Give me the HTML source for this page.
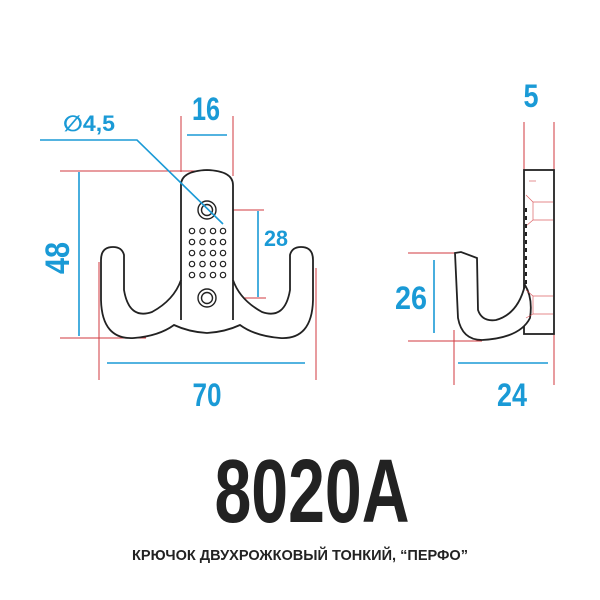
<!DOCTYPE html>
<html><head><meta charset="utf-8"><style>
html,body{margin:0;padding:0;background:#fff;}
svg{display:block;}
text{font-family:"Liberation Sans Narrow","Liberation Sans","DejaVu Sans",sans-serif;font-weight:bold;}
</style></head><body>
<svg width="600" height="600" viewBox="0 0 600 600" xmlns="http://www.w3.org/2000/svg">
<g stroke="#d23a3f" stroke-width="1" fill="none">
 <line x1="181" y1="116" x2="181" y2="172"/><line x1="233" y1="116" x2="233" y2="176"/>
 <line x1="60" y1="171" x2="200" y2="171"/><line x1="60" y1="338" x2="146" y2="338"/>
 <line x1="207" y1="210" x2="264" y2="210"/><line x1="207" y1="298" x2="266" y2="298"/>
 <line x1="99" y1="262" x2="99" y2="380"/><line x1="316" y1="268" x2="316" y2="380"/>
 <line x1="524" y1="122" x2="524" y2="170"/><line x1="554" y1="122" x2="554" y2="170"/>
 <line x1="408" y1="253" x2="455" y2="253"/><line x1="408" y1="341" x2="482" y2="341"/>
 <line x1="454" y1="330" x2="454" y2="385"/><line x1="554" y1="330" x2="554" y2="385"/>
</g>
<g stroke="#1a9ad6" stroke-width="1.6" fill="none">
 <line x1="187" y1="135" x2="227" y2="135"/>
 <line x1="79" y1="172" x2="79" y2="336"/>
 <line x1="258" y1="211" x2="258" y2="297"/>
 <line x1="107" y1="363" x2="305" y2="363"/>
 <line x1="434" y1="260" x2="434" y2="333"/>
 <line x1="458" y1="363" x2="548" y2="363"/>
</g>
<g stroke="#222" stroke-width="1.8" fill="#fff">
 <path d="M181 280 L181 185 Q181 171 207 170 Q233 171 233 185 L233 280 Q240 300 262 312 Q285 320 290 290 L290 255 Q292 247 301 247 Q313 247 313 260 L313 300 Q312 340 280 338 Q255 336 240 325 Q225 332 207 333 Q189 332 174 325 Q159 336 134 338 Q102 340 101 300 L101 260 Q101 247 113 247 Q122 247 124 255 L124 290 Q129 320 152 312 Q174 300 181 280 Z"/>
 <path d="M181 280 L181 320 M233 280 L233 320" fill="none"/>
</g>
<g stroke="#222" stroke-width="1.4" fill="none">
 <circle cx="207" cy="210" r="9"/><circle cx="207" cy="210" r="5.5"/>
 <circle cx="207" cy="298" r="9"/><circle cx="207" cy="298" r="5.5"/>
 <g stroke-width="1.2">
 <circle cx="192" cy="231" r="2.7"/><circle cx="202.5" cy="231" r="2.7"/><circle cx="213" cy="231" r="2.7"/><circle cx="223" cy="231" r="2.7"/>
 <circle cx="192" cy="242" r="2.7"/><circle cx="202.5" cy="242" r="2.7"/><circle cx="213" cy="242" r="2.7"/><circle cx="223" cy="242" r="2.7"/>
 <circle cx="192" cy="253" r="2.7"/><circle cx="202.5" cy="253" r="2.7"/><circle cx="213" cy="253" r="2.7"/><circle cx="223" cy="253" r="2.7"/>
 <circle cx="192" cy="264" r="2.7"/><circle cx="202.5" cy="264" r="2.7"/><circle cx="213" cy="264" r="2.7"/><circle cx="223" cy="264" r="2.7"/>
 <circle cx="192" cy="275" r="2.7"/><circle cx="202.5" cy="275" r="2.7"/><circle cx="213" cy="275" r="2.7"/><circle cx="223" cy="275" r="2.7"/>
 </g>
</g>
<polyline points="40,140 137,140 223,224" stroke="#1a9ad6" stroke-width="1.6" fill="none"/>
<g stroke="#222" stroke-width="1.8" fill="#fff">
 <rect x="524" y="170" width="30" height="164"/>
 <path d="M455 253 L461 252 L477 258 L478 310 Q482 322 496 320 Q518 314 525 285 Q533 298 530 318 Q520 338 482 340 Q462 340 458 318 Z"/>
</g>
<g stroke="#d23a3f" stroke-width="0.7" fill="none" opacity="0.8">
 <path d="M526 195 L533 202 L553 202 M533 202 L533 220 L553 220 M526 226 L533 220"/>
 <path d="M526 290 L533 296 L553 296 M533 296 L533 314 L553 314 M526 318 L533 314"/>
 <line x1="529" y1="181" x2="536" y2="181"/>
</g>
<g stroke="#222" stroke-width="2" stroke-dasharray="4 4"><line x1="526" y1="208" x2="526" y2="285"/></g>
<g fill="#1a9ad6">
 <text x="206" y="120" font-size="32" text-anchor="middle" textLength="28" lengthAdjust="spacingAndGlyphs">16</text>
 <text x="89" y="131" font-size="22" text-anchor="middle" textLength="52" lengthAdjust="spacingAndGlyphs">∅4,5</text>
 <text transform="translate(69,258) rotate(-90)" font-size="34" text-anchor="middle" textLength="32" lengthAdjust="spacingAndGlyphs">48</text>
 <text x="276" y="246" font-size="22" text-anchor="middle" textLength="24" lengthAdjust="spacingAndGlyphs">28</text>
 <text x="207" y="406" font-size="32" text-anchor="middle" textLength="29" lengthAdjust="spacingAndGlyphs">70</text>
 <text x="531" y="107" font-size="32" text-anchor="middle" textLength="15" lengthAdjust="spacingAndGlyphs">5</text>
 <text x="411" y="309" font-size="32" text-anchor="middle" textLength="32" lengthAdjust="spacingAndGlyphs">26</text>
 <text x="512" y="406" font-size="32" text-anchor="middle" textLength="30" lengthAdjust="spacingAndGlyphs">24</text>
</g>
<text x="312" y="522" font-size="90" fill="#222" text-anchor="middle" textLength="195" lengthAdjust="spacingAndGlyphs">8020A</text>
<text x="300" y="560" font-size="15" fill="#222" text-anchor="middle" textLength="336" lengthAdjust="spacingAndGlyphs">КРЮЧОК ДВУХРОЖКОВЫЙ ТОНКИЙ, “ПЕРФО”</text>
</svg>
</body></html>
